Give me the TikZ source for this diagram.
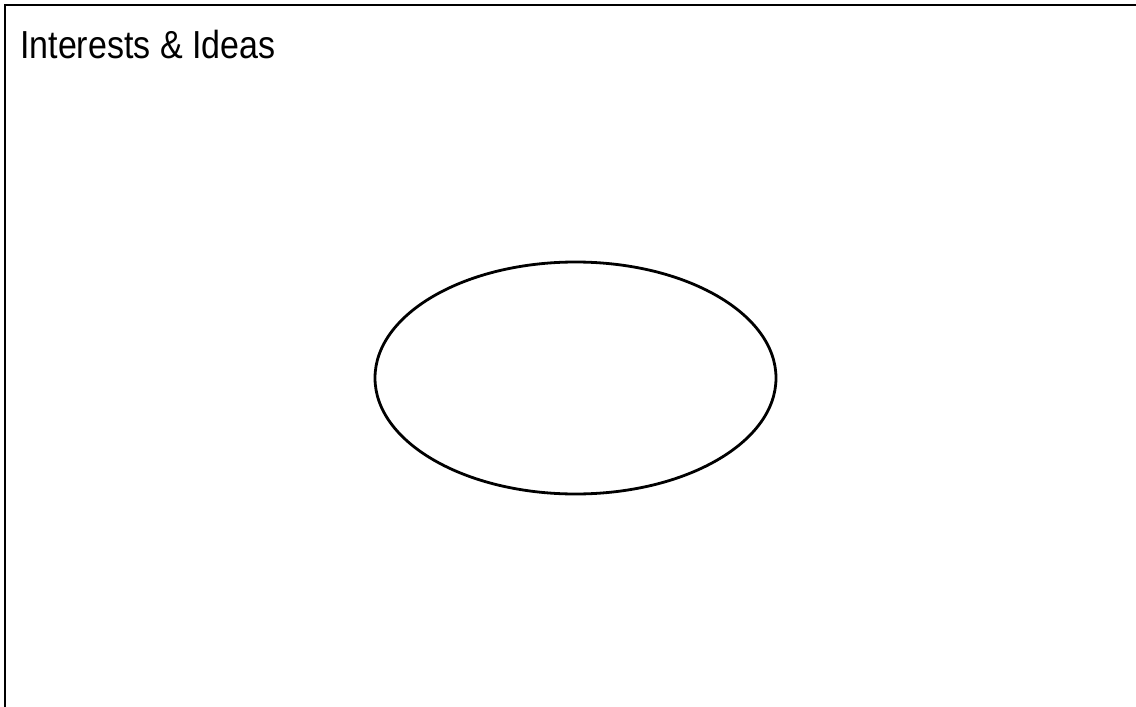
\documentclass[tikz,border=0pt]{standalone}
\usepackage{fontspec}
\setmainfont{Liberation Sans}
\usepackage{tikz}
\usetikzlibrary{shapes.geometric, positioning}

\begin{document}
\begin{tikzpicture}[
        x=1pt,
        y=-1pt,
        frame/.style={
            draw,
            line width=2.2pt
        },
        idea/.style={
            ellipse,
            draw,
            line width=2.8pt,
            inner sep=0pt,
            minimum width=401pt,
            minimum height=232pt
        },
        heading/.style={
            anchor=base west,
            inner sep=0pt,
            font=\fontsize{34}{40}\selectfont
        }
    ]

    \useasboundingbox (0,0) rectangle (1136,707);

    % Frame
    \coordinate (corner) at (5,5);
    \coordinate (top end) at (1136,5);
    \coordinate (left end) at (5,707);
    \draw[frame] (left end) -- (corner) -- (top end);

    % Nodes
    \node[heading] (title) at (20,58.5) {\scalebox{1}[1.15]{Interests \& Ideas}};
    \node[idea] (interests) at (575.5,378) {};

    \end{tikzpicture}
\end{document}
